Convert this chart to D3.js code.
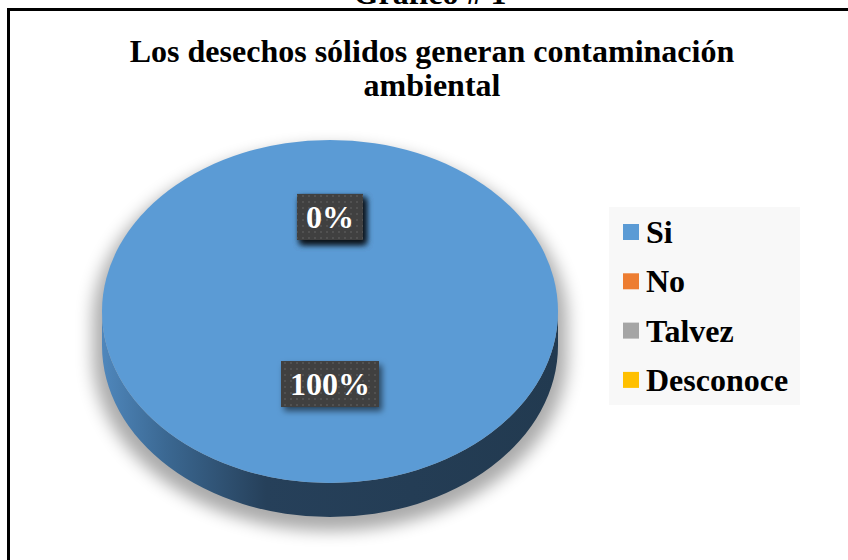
<!DOCTYPE html>
<html>
<head>
<meta charset="utf-8">
<script src="https://cdn.jsdelivr.net/npm/d3@7"></script>
<style>
  body { margin: 0; background: #fff; }
  svg { display: block; }
</style>
</head>
<body>
<div id="chart"></div>
<script>
(function () {

  // data
  var categories = ["Si", "No", "Talvez", "Desconoce"]
  var values = [100, 0, 0, 0]
  var percentLabels = ["100%", "0%", "0%", "0%"]
  var colors = ["#5B9BD5", "#ED7D31", "#A5A5A5", "#FFC000"]
  var titleLines = ["Los desechos sólidos generan contaminación", "ambiental"]

  var width = 848, height = 560
  var font = "'Liberation Serif', 'Times New Roman', serif"

  var cx = 330, cy = 311.5, rx = 228, ry = 171.5, depth = 34

  var svg = d3.select("#chart").append("svg")
    .attr("width", width)
    .attr("height", height)

  var defs = svg.append("defs")

  var sideGrad = defs.append("linearGradient")
    .attr("id", "sideGrad")
    .attr("gradientUnits", "userSpaceOnUse")
    .attr("x1", cx - rx).attr("x2", cx + rx)
    .attr("y1", 0).attr("y2", 0)
  sideGrad.append("stop").attr("offset", "0%").attr("stop-color", "#4f87bc")
  sideGrad.append("stop").attr("offset", "14%").attr("stop-color", "#3b6892")
  sideGrad.append("stop").attr("offset", "36%").attr("stop-color", "#26405a")
  sideGrad.append("stop").attr("offset", "100%").attr("stop-color", "#223a50")

  var blur = defs.append("filter").attr("id", "blur")
    .attr("x", "-20%").attr("y", "-20%").attr("width", "140%").attr("height", "140%")
  blur.append("feGaussianBlur").attr("stdDeviation", 8)

  var boxShadow = defs.append("filter").attr("id", "boxShadow")
    .attr("x", "-30%").attr("y", "-30%").attr("width", "160%").attr("height", "170%")
  boxShadow.append("feDropShadow")
    .attr("dx", 3).attr("dy", 4).attr("stdDeviation", 3)
    .attr("flood-color", "#000").attr("flood-opacity", 0.55)

  var dots = defs.append("pattern").attr("id", "dots")
    .attr("patternUnits", "userSpaceOnUse")
    .attr("width", 6).attr("height", 6)
  dots.append("rect").attr("width", 6).attr("height", 6).attr("fill", "#404040")
  dots.append("rect").attr("x", 2).attr("y", 2).attr("width", 2).attr("height", 2).attr("fill", "#515151")

  // frame (top and left rules) and heading cut off by the page edge
  svg.append("text")
    .attr("x", 430).attr("y", 4)
    .attr("text-anchor", "middle")
    .style("font-family", font).style("font-weight", "bold").style("font-size", "32px")
    .text("Gráfico # 1")

  svg.append("line")
    .attr("x1", 7).attr("x2", width).attr("y1", 9.5).attr("y2", 9.5)
    .attr("stroke", "#000").attr("stroke-width", 3)
  svg.append("line")
    .attr("x1", 8.5).attr("x2", 8.5).attr("y1", 8).attr("y2", height)
    .attr("stroke", "#000").attr("stroke-width", 3)

  // title
  svg.selectAll(".title")
    .data(titleLines)
    .enter().append("text")
    .attr("class", "title")
    .attr("x", 432)
    .attr("y", function (d, i) { return 62 + i * 34 })
    .attr("text-anchor", "middle")
    .style("font-family", font).style("font-weight", "bold").style("font-size", "32px")
    .text(function (d) { return d })

  // pie
  var pie = d3.pie().sort(null).value(function (d) { return d })
  var arcs = pie(values)

  var arc = d3.arc().innerRadius(0).outerRadius(rx)
  var labelArc = d3.arc().innerRadius(0).outerRadius(rx * 0.974)
  var yScale = ry / rx

  // side wall path for the front half
  function sidePath(top) {
    return "M" + (cx - rx) + "," + cy +
      "L" + (cx - rx) + "," + (cy + depth) +
      "A" + rx + "," + ry + " 0 0 0 " + (cx + rx) + "," + (cy + depth) +
      "L" + (cx + rx) + "," + cy +
      (top ? "A" + rx + "," + ry + " 0 0 0 " + (cx - rx) + "," + cy : "A" + rx + "," + ry + " 0 0 1 " + (cx - rx) + "," + cy) + "Z"
  }

  // soft shadow under the whole disc
  svg.append("path")
    .attr("d", sidePath(true))
    .attr("transform", "translate(" + cx + "," + (cy + 10) + ") scale(1.04,1.02) translate(" + (-cx) + "," + (-cy) + ")")
    .attr("fill", "#000")
    .attr("opacity", 0.33)
    .attr("filter", "url(#blur)")

  var pieG = svg.append("g")

  pieG.selectAll(".side")
    .data(arcs.filter(function (d) { return d.value > 0 }))
    .enter().append("path")
    .attr("class", "side")
    .attr("d", sidePath(false))
    .attr("fill", function (d) { return d.index === 0 ? "url(#sideGrad)" : d3.color(colors[d.index]).darker(1.2) })

  pieG.selectAll(".slice")
    .data(arcs)
    .enter().append("path")
    .attr("class", "slice")
    .attr("transform", "translate(" + cx + "," + cy + ") scale(1," + yScale + ")")
    .attr("d", arc)
    .attr("fill", function (d) { return colors[d.index] })

  // data labels
  var labelG = svg.selectAll(".label")
    .data(arcs)
    .enter().append("g")
    .attr("class", "label")
    .attr("transform", function (d) {
      var c = labelArc.centroid(d)
      return "translate(" + (cx + c[0]) + "," + (cy - 11 + c[1] * yScale) + ")"
    })

  labelG.append("text")
    .attr("text-anchor", "middle")
    .attr("y", 11)
    .style("font-family", font).style("font-weight", "bold").style("font-size", "32px")
    .attr("fill", "#fff")
    .text(function (d) { return percentLabels[d.index] })
    .each(function () {
      var w = this.getComputedTextLength() + 18
      d3.select(this.parentNode).insert("rect", "text")
        .attr("x", -w / 2).attr("y", -23)
        .attr("width", w).attr("height", 46)
        .attr("fill", "url(#dots)")
        .attr("filter", "url(#boxShadow)")
    })

  // legend
  var legend = svg.append("g").attr("transform", "translate(609,207)")
  legend.append("rect")
    .attr("width", 191).attr("height", 198)
    .attr("fill", "#f8f8f8")

  var item = legend.selectAll(".item")
    .data(categories)
    .enter().append("g")
    .attr("class", "item")
    .attr("transform", function (d, i) { return "translate(14," + (25 + i * 49.3) + ")" })

  item.append("rect")
    .attr("x", 0).attr("y", -8)
    .attr("width", 16).attr("height", 16)
    .attr("fill", function (d, i) { return colors[i] })

  item.append("text")
    .attr("x", 23).attr("y", 11)
    .style("font-family", font).style("font-weight", "bold").style("font-size", "32px")
    .text(function (d) { return d })

})()
</script>
</body>
</html>
